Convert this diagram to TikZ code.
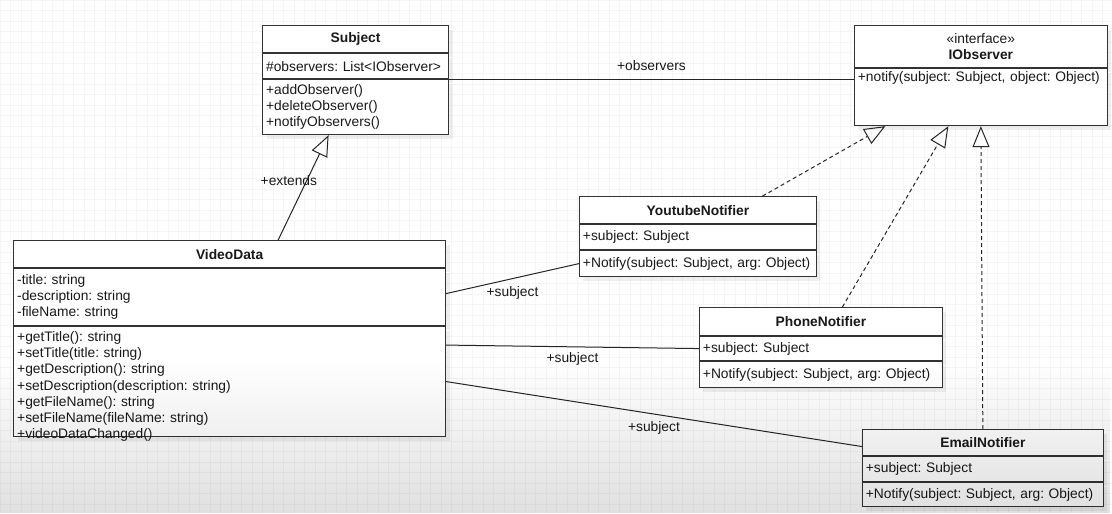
\documentclass[tikz,border=0pt]{standalone}
\usepackage{fontspec}
\setmainfont{Liberation Sans}
\usetikzlibrary{positioning,arrows.meta,shadows,fadings}
\frenchspacing
\hyphenpenalty=10000

\begin{document}
\begin{tikzpicture}
[x=1pt, y=-1pt, node distance=0pt,
 font=\fontsize{13.8}{16.2}\selectfont,
 part/.style={draw=black!80, line width=1pt, fill=white, text=black!90, text width=#1,
   align=left, inner xsep=3.5pt, inner ysep=1pt,
   drop shadow={opacity=0.12, shadow xshift=4pt, shadow yshift=-4pt}},
 head/.style={part=#1, align=center, font=\fontsize{13.8}{16}\selectfont\bfseries},
 assoc/.style={line width=1pt, draw=black!85},
 inherit/.style={assoc, -{Triangle[open, length=21pt, width=17pt]}},
 real/.style={assoc, dash pattern=on 4pt off 3pt, -{Triangle[open, length=21pt, width=17pt]}},
 lbl/.style={text=black!90}]
\fill[white] (0,0) rectangle (1112,513);
\draw[black!4, step=10.5pt] (0,0) grid (1112,513);
\useasboundingbox (0,0) rectangle (1112,513);

% Subject
\node[head=179, minimum height=27pt, anchor=north west] (subT) at (262,25) {Subject};
\node[part=179, minimum height=25pt, below=of subT] (subA) {\#observers: List<IObserver>};
\node[part=179, minimum height=55pt, below=of subA] (subM) {+addObserver()\\+deleteObserver()\\+notifyObservers()};

% IObserver
\node[head=246, minimum height=42pt, anchor=north west] (ioT) at (854,25) {{\mdseries «interface»}\\IObserver};
\node[part=246, text height=12pt, text depth=43pt, below=of ioT] (ioM) {+notify(subject: Subject, object: Object)};

% VideoData
\node[head=425, minimum height=27pt, anchor=north west] (vdT) at (13,240) {VideoData};
\node[part=425, minimum height=57pt, below=of vdT] (vdA) {-title: string\\-description: string\\-fileName: string};
\node[part=425, text height=15pt, text depth=95pt, inner ysep=0pt, below=of vdA] (vdM) {+getTitle(): string\\+setTitle(title: string)\\+getDescription(): string\\+setDescription(description: string)\\+getFileName(): string\\+setFileName(fileName: string)\\+videoDataChanged()};

% notifiers
\node[head=230, minimum height=27pt, anchor=north west] (ytT) at (579,196) {YoutubeNotifier};
\node[part=230, minimum height=25pt, below=of ytT] (ytA) {+subject: Subject};
\node[part=230, minimum height=26pt, below=of ytA] (ytM) {+Notify(subject: Subject, arg: Object)};

\node[head=236, minimum height=28pt, anchor=north west] (phT) at (699,307) {PhoneNotifier};
\node[part=236, minimum height=24pt, below=of phT] (phA) {+subject: Subject};
\node[part=236, minimum height=26pt, below=of phA] (phM) {+Notify(subject: Subject, arg: Object)};

\node[head=234, minimum height=26pt, anchor=north west] (emT) at (862,429) {EmailNotifier};
\node[part=234, minimum height=25pt, below=of emT] (emA) {+subject: Subject};
\node[part=234, minimum height=24pt, below=of emA] (emM) {+Notify(subject: Subject, arg: Object)};

% connectors
\draw[assoc] (subM.north east) -- (subM.north east -| ioM.west) node[lbl, midway, above=5pt] (obsL) {+observers};
\draw[inherit] ([xshift=265pt]vdT.north west) -- ([xshift=-27pt]subM.south) node[lbl, pos=0.57, xshift=-18pt] (extL) {+extends};
\draw[real] ([xshift=64.5pt]ytT.north) -- ([xshift=-95.5pt]ioM.south);
\draw[real] ([xshift=21.5pt]phT.north) -- ([xshift=-32.5pt]ioM.south);
\draw[real] (emT.north) -- (ioM.south);
\draw[assoc] ([yshift=3.5pt]vdA.east) -- (ytM.west) node[lbl, midway, below=4pt] (ytL) {+subject};
\draw[assoc] ([yshift=-19pt]vdM.north east) -- (phA.west) node[lbl, midway, below=2pt] (phL) {+subject};
\draw[assoc] (vdM.east) -- ([yshift=-4pt]emT.west) node[lbl, midway, below=4pt] (emL) {+subject};

\fill[black, opacity=0.12, path fading=north] (0,360) rectangle (1112,513);
\end{tikzpicture}
\end{document}
